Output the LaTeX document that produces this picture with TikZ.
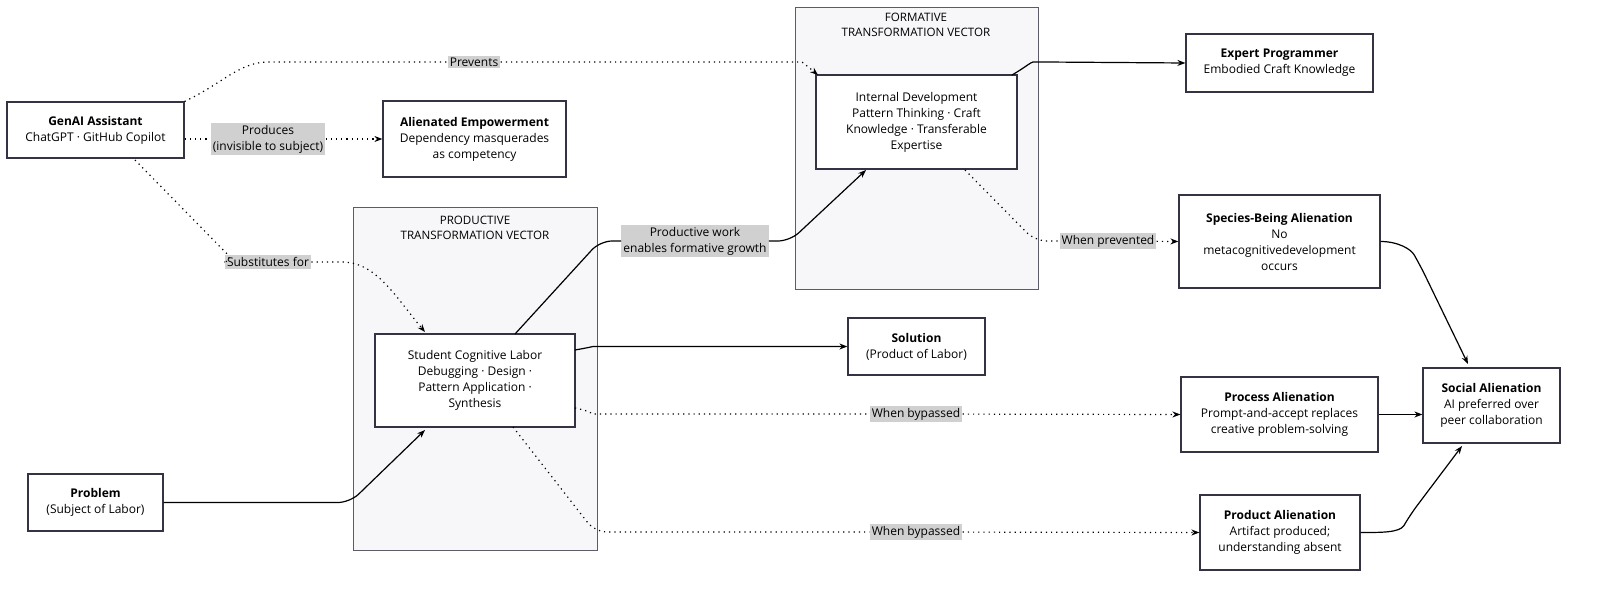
\documentclass[tikz,border=0pt]{standalone}
\usepackage{fontspec}
\setmainfont{Open Sans}
\usetikzlibrary{arrows.meta}
\definecolor{bd}{HTML}{333344}
\definecolor{cl}{HTML}{F7F7FA}
\definecolor{lb}{HTML}{D0D0D0}
\tikzset{
 box/.style={draw=bd,fill=white,line width=0.6pt,align=center,inner sep=0pt,font=\fontsize{6}{8}\selectfont},
 clus/.style={draw=bd!80,fill=cl,line width=0.5pt},
 lab/.style={fill=lb,align=center,inner sep=1pt,font=\fontsize{6}{8}\selectfont},
 ctitle/.style={align=center,font=\fontsize{5.8}{7.5}\selectfont},
 sol/.style={draw=black,line width=0.6pt,-{Stealth[length=4pt]},rounded corners=6pt},
 dot/.style={draw=black,line width=0.6pt,dotted,-{Stealth[length=4pt]},rounded corners=6pt}
}
\begin{document}
\begin{tikzpicture}[x=0.5pt,y=-0.5pt]
\useasboundingbox (0,0) rectangle (1600,589);
\draw[clus] (353,207) rectangle (597,550);
\node[ctitle] (pt) at (475,228) {PRODUCTIVE\\TRANSFORMATION VECTOR};
\draw[clus] (795,7) rectangle (1038,289);
\node[ctitle] (ft) at (916,25) {FORMATIVE\\TRANSFORMATION VECTOR};

\node[box,minimum width=88.5pt,minimum height=28pt] (genai) at (95.5,130) {\textbf{GenAI Assistant}\\ChatGPT · GitHub Copilot};
\node[box,minimum width=91.5pt,minimum height=38pt] (alien) at (474.5,139) {\textbf{Alienated Empowerment}\\Dependency masquerades\\as competency};
\node[box,minimum width=100pt,minimum height=46.5pt] (stud) at (475,380.5) {Student Cognitive Labor\\Debugging · Design ·\\Pattern Application ·\\Synthesis};
\node[box,minimum width=67.5pt,minimum height=28.5pt] (prob) at (95.5,502.5) {\textbf{Problem}\\(Subject of Labor)};
\node[box,minimum width=100.5pt,minimum height=47pt] (intd) at (916.5,122) {Internal Development\\Pattern Thinking · Craft\\Knowledge · Transferable\\Expertise};
\node[box,minimum width=93.5pt,minimum height=29pt] (exp) at (1279.5,63) {\textbf{Expert Programmer}\\Embodied Craft Knowledge};
\node[box,minimum width=68.5pt,minimum height=28.5pt] (solu) at (916.5,346.5) {\textbf{Solution}\\(Product of Labor)};
\node[box,minimum width=100.5pt,minimum height=46.5pt] (spec) at (1279.5,241.5) {\textbf{Species-Being Alienation}\\No\\metacognitivedevelopment\\occurs};
\node[box,minimum width=98.5pt,minimum height=37.5pt] (proc) at (1279.5,414.5) {\textbf{Process Alienation}\\Prompt-and-accept replaces\\creative problem-solving};
\node[box,minimum width=80pt,minimum height=37.5pt] (prod) at (1280,532.5) {\textbf{Product Alienation}\\Artifact produced;\\understanding absent};
\node[box,minimum width=68.5pt,minimum height=37.5pt] (soc) at (1491.5,405.5) {\textbf{Social Alienation}\\AI preferred over\\peer collaboration};

\node[lab] (lprev) at (474,62) {Prevents};
\node[lab] (lprodu) at (268,139) {Produces\\(invisible to subject)};
\node[lab] (lsub) at (268,262) {Substitutes for};
\node[lab] (lpw) at (695,241) {Productive work\\enables formative growth};
\node[lab] (lwp) at (1108,241) {When prevented};
\node[lab] (lwb1) at (916,414) {When bypassed};
\node[lab] (lwb2) at (916,532) {When bypassed};

\draw[dot] (genai.north east) to[out=25,in=180] (280,62) -- (lprev) -- (790,62) to[out=0,in=140] (818,75);
\draw[dot] (genai.east|-lprodu) -- (lprodu) -- (alien.west|-lprodu);
\draw[dot] (135,160) -- (235,262) -- (lsub) -- (330,262) to[out=0,in=130] (425,332);
\draw[sol] (prob.east) -- (350,502.5) -- (425,430);
\draw[sol] (515,334) -- (600,241) -- (lpw) -- (790,241) -- (866,170);
\draw[sol] (1012,75) to[out=30,in=180] (1045,62) -- (exp.west);
\draw[dot] (965,170) -- (1035,241) -- (lwp) -- (spec.west);
\draw[sol] (575,350) to[out=10,in=180] (605,346.5) -- (solu.west);
\draw[dot] (575,408) to[out=-10,in=180] (605,414) -- (lwb1) -- (proc.west);
\draw[dot] (513,427) -- (595,532) -- (lwb2) -- (prod.west);
\draw[sol] (spec.east) to[out=0,in=120] (1420,265) -- (1468,364);
\draw[sol] (proc.east) -- (soc.west|-proc.east);
\draw[sol] (prod.east) to[out=0,in=-120] (1410,515) -- (1462,446);
\end{tikzpicture}
\end{document}
